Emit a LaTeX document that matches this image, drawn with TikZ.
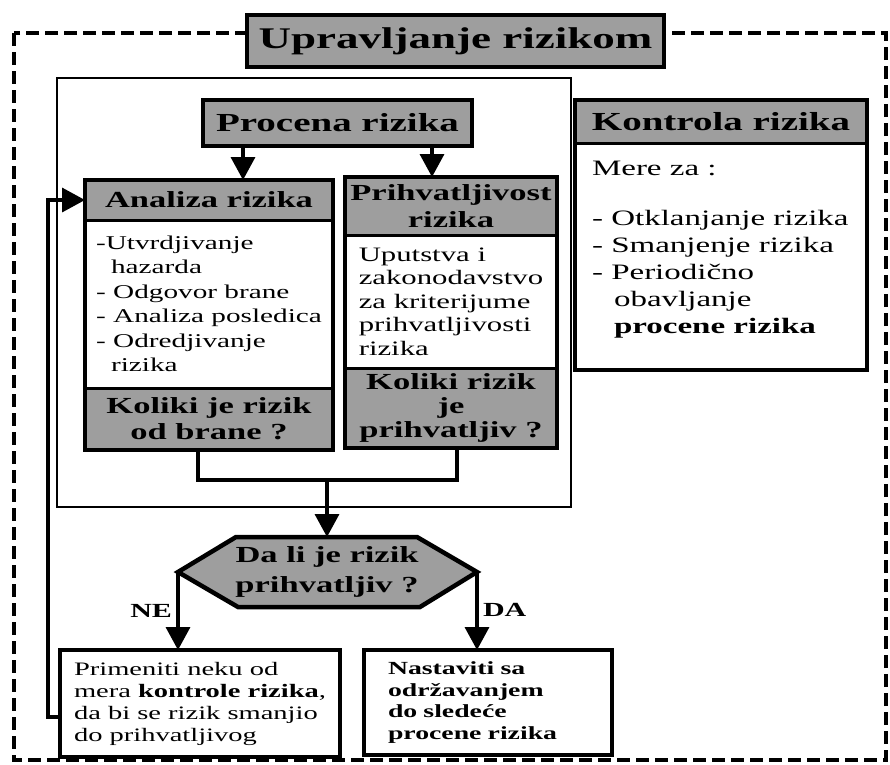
\documentclass[tikz,border=0pt]{standalone}
\usepackage{fontspec}
\setmainfont{Liberation Serif}[FakeStretch=1.5]
\usetikzlibrary{arrows.meta}
\definecolor{hgray}{gray}{0.62}
\begin{document}
\begin{tikzpicture}[x=1pt,y=-1pt,
  every node/.style={inner sep=0pt, outer sep=0pt},
  gbox/.style={draw, line width=3pt, fill=hgray, align=center},
  wbox/.style={draw, line width=3pt, fill=white, align=left},
  frame/.style={draw, line width=4.5pt},
  conn/.style={line width=3.5pt},
  arr/.style={conn, -{Triangle[length=23pt,width=24pt]}},
]
\useasboundingbox (0,0) rectangle (890,764);

% outer dashed frame
\draw[line width=4pt, dash pattern=on 13pt off 6pt] (14,33) rectangle (886,760);
% inner solid frame
\draw[line width=2pt] (57,78) rectangle (571,507);

% title
\node[gbox, line width=4.5pt, minimum width=417pt, minimum height=52pt,
      font=\bfseries\fontsize{30}{34}\selectfont] (title) at (455.5,41) {Upravljanje rizikom};

% Procena rizika
\node[gbox, line width=4.5pt, minimum width=269pt, minimum height=46pt,
      font=\bfseries\fontsize{26}{30}\selectfont] (proc) at (337.5,123) {Procena rizika};

% Analiza column
\node[gbox, anchor=north west, minimum width=248pt, minimum height=40pt,
      font=\bfseries\fontsize{23}{26}\selectfont] (aH) at (85,180) {Analiza rizika};
\node[wbox, anchor=north west, minimum width=248pt, minimum height=168pt,
      font=\fontsize{19.5}{24.5}\selectfont] (aB) at (aH.south west)
  {-Utvrdjivanje\\\hspace*{15pt}hazarda\\- Odgovor brane\\- Analiza posledica\\- Odredjivanje\\\hspace*{15pt}rizika};
\node[gbox, anchor=north west, minimum width=248pt, minimum height=62pt,
      font=\bfseries\fontsize{23}{26}\selectfont] (aF) at (aB.south west) {Koliki je rizik\\od brane ?};
\draw[frame] (aH.north west) rectangle (aF.south east);

% Prihvatljivost column
\node[gbox, anchor=north west, minimum width=212pt, minimum height=58pt,
      font=\bfseries\fontsize{23}{27}\selectfont] (pH) at (345,177) {Prihvatljivost\\rizika};
\node[wbox, anchor=north west, minimum width=212pt, minimum height=133pt,
      font=\fontsize{20.5}{23.5}\selectfont] (pB) at (pH.south west)
  {Uputstva i\\zakonodavstvo\\za kriterijume\\prihvatljivosti\\rizika};
\node[gbox, anchor=north west, minimum width=212pt, minimum height=80pt,
      font=\bfseries\fontsize{23}{24}\selectfont] (pF) at (pB.south west) {Koliki rizik\\je\\prihvatljiv ?};
\draw[frame] (pH.north west) rectangle (pF.south east);

% Kontrola rizika
\node[gbox, anchor=north west, minimum width=292pt, minimum height=43pt,
      font=\bfseries\fontsize{26}{30}\selectfont] (kH) at (575,100) {Kontrola rizika};
\node[wbox, anchor=north west, minimum width=292pt, minimum height=227pt] (kB) at (kH.south west) {};
\draw[frame] (kH.north west) rectangle (kB.south east);
\node[anchor=north west, align=left, font=\fontsize{22}{27}\selectfont] (kT) at (592,161)
  {Mere za :\\[23pt]- Otklanjanje rizika\\- Smanjenje rizika\\- Periodično\\\hspace*{22pt}obavljanje\\\hspace*{22pt}\textbf{procene rizika}};

% decision
\coordinate (decT) at (327,537);
\coordinate (decL) at (178,572);
\coordinate (decR) at (477,572);
\draw[line width=4.5pt, fill=hgray, line join=miter] (decL) -- (236,537) -- (417,537) -- (decR) -- (420,607) -- (238,607) -- cycle;
\node[align=center, font=\bfseries\fontsize{23}{30}\selectfont] (dec) at (327,572) {Da li je rizik\\prihvatljiv ?};

% bottom boxes
\node[wbox, line width=4.5pt, anchor=north west, minimum width=280pt, minimum height=107pt,
      font=\fontsize{19}{22}\selectfont] (prim) at (60,650)
  {Primeniti neku od\\mera \textbf{kontrole rizika},\\da bi se rizik smanjio\\do prihvatljivog};
\node[wbox, line width=4.5pt, anchor=north west, text width=200pt, inner xsep=24pt, minimum height=105pt,
      font=\bfseries\fontsize{18.5}{21.5}\selectfont] (nast) at (364,650)
  {Nastaviti sa\\održavanjem\\do sledeće\\procene rizika};

% labels
\node[anchor=east, font=\bfseries\fontsize{20}{24}\selectfont] (ne) at (172,611) {NE};
\node[anchor=west, font=\bfseries\fontsize{20}{24}\selectfont] (da) at (483,610) {DA};

% connectors
\draw[arr] ([xshift=40pt]proc.south west) -- ([xshift=40pt]proc.south west |- aH.north);
\draw[arr] ([xshift=-40pt]proc.south east) -- ([xshift=-40pt]proc.south east |- pH.north);
\coordinate (jn) at (327,480);
\draw[conn] ([xshift=-11pt]aF.south) |- (jn) -| ([xshift=6pt]pF.south);
\draw[arr] (jn) -- (decT);
\draw[arr] (decL) -- (decL |- prim.north);
\draw[arr] (decR) -- (decR |- nast.north);
\coordinate (fbB) at (48,717);
\coordinate (fbT) at (48,200);
\draw[arr] (prim.west |- fbB) -- (fbB) -- (fbT) -- (fbT -| aH.west);
\end{tikzpicture}
\end{document}
